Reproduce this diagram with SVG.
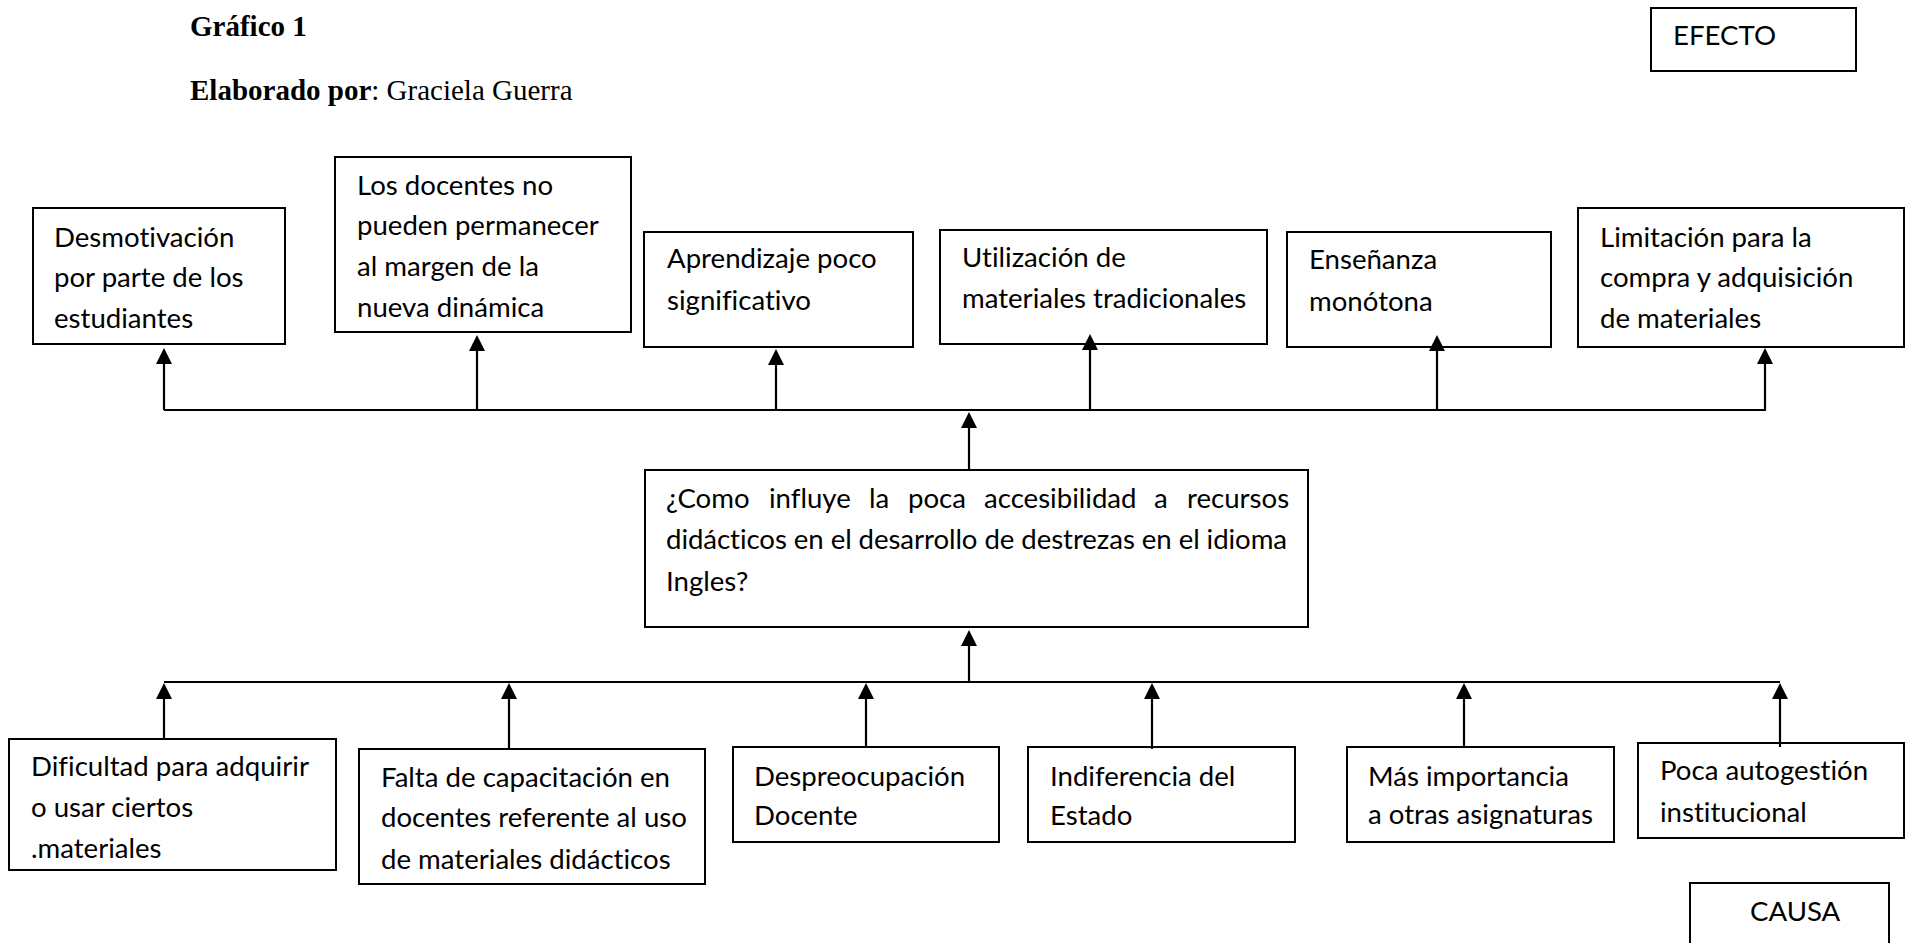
<svg xmlns="http://www.w3.org/2000/svg" width="1912" height="943" viewBox="0 0 1912 943">
<style>
.bg{fill:#fff}
.box{fill:#fff;stroke:#000;stroke-width:2}
.t{font-family:Lato,"Open Sans","Liberation Sans",sans-serif;font-size:27.6px;fill:#000;font-variant-ligatures:none;font-feature-settings:"liga" 0}
.h{font-family:"Liberation Serif","Times New Roman",serif;font-size:29px;fill:#000}
.b{font-weight:bold}
.conn{stroke:#000;stroke-width:2.2;fill:none}
.arr{marker-end:url(#ah)}
</style>
<defs>
<marker id="ah" markerUnits="userSpaceOnUse" viewBox="0 0 16 16" markerWidth="16" markerHeight="16" refX="6" refY="8" orient="auto">
<path d="M0,0 L16,8 L0,16 z" fill="#000"/>
</marker>
</defs>
<rect class="bg" x="0" y="0" width="1912" height="943"/>

<g id="title">
<text class="h b" x="190" y="36">Gráfico 1</text>
<text class="h" x="190" y="100"><tspan class="b">Elaborado por</tspan>: Graciela Guerra</text>
</g>

<g id="efecto">
<rect class="box" x="1651" y="8" width="205" height="63"/>
<text class="t" x="1673" y="45">EFECTO</text>
</g>

<g id="e1">
<rect class="box" x="33" y="208" width="252" height="136"/>
<text class="t" x="54" y="247">Desmotivación</text>
<text class="t" x="54" y="287">por parte de los</text>
<text class="t" x="54" y="328">estudiantes</text>
</g>

<g id="e2">
<rect class="box" x="335" y="157" width="296" height="175"/>
<text class="t" x="357" y="195">Los docentes no</text>
<text class="t" x="357" y="235">pueden permanecer</text>
<text class="t" x="357" y="276">al margen de la</text>
<text class="t" x="357" y="317">nueva dinámica</text>
</g>

<g id="e3">
<rect class="box" x="644" y="232" width="269" height="115"/>
<text class="t" x="667" y="268">Aprendizaje poco</text>
<text class="t" x="667" y="310">significativo</text>
</g>

<g id="e4">
<rect class="box" x="940" y="230" width="327" height="114"/>
<text class="t" x="962" y="267">Utilización de</text>
<text class="t" x="962" y="308">materiales tradicionales</text>
</g>

<g id="e5">
<rect class="box" x="1287" y="232" width="264" height="115"/>
<text class="t" x="1309" y="269">Enseñanza</text>
<text class="t" x="1309" y="311">monótona</text>
</g>

<g id="e6">
<rect class="box" x="1578" y="208" width="326" height="139"/>
<text class="t" x="1600" y="247">Limitación para la</text>
<text class="t" x="1600" y="287">compra y adquisición</text>
<text class="t" x="1600" y="328">de materiales</text>
</g>

<g id="problema">
<rect class="box" x="645" y="470" width="663" height="157"/>
<text class="t" y="508"><tspan x="666">¿Como</tspan><tspan x="769">influye</tspan><tspan x="869">la</tspan><tspan x="908">poca</tspan><tspan x="984">accesibilidad</tspan><tspan x="1154">a</tspan><tspan x="1187">recursos</tspan></text>
<text class="t" x="666" y="549" textLength="621" lengthAdjust="spacing">didácticos en el desarrollo de destrezas en el idioma</text>
<text class="t" x="666" y="591">Ingles?</text>
</g>

<g id="c1">
<rect class="box" x="9" y="739" width="327" height="131"/>
<text class="t" x="31" y="776">Dificultad para adquirir</text>
<text class="t" x="31" y="817">o usar ciertos</text>
<text class="t" x="31" y="858">.materiales</text>
</g>

<g id="c2">
<rect class="box" x="359" y="749" width="346" height="135"/>
<text class="t" x="381" y="787">Falta de capacitación en</text>
<text class="t" x="381" y="827">docentes referente al uso</text>
<text class="t" x="381" y="869">de materiales didácticos</text>
</g>

<g id="c3">
<rect class="box" x="733" y="747" width="266" height="95"/>
<text class="t" x="754" y="786">Despreocupación</text>
<text class="t" x="754" y="825">Docente</text>
</g>

<g id="c4">
<rect class="box" x="1028" y="747" width="267" height="95"/>
<text class="t" x="1050" y="786">Indiferencia del</text>
<text class="t" x="1050" y="825">Estado</text>
</g>

<g id="c5">
<rect class="box" x="1347" y="747" width="267" height="95"/>
<text class="t" x="1368" y="786">Más importancia</text>
<text class="t" x="1368" y="824">a otras asignaturas</text>
</g>

<g id="c6">
<rect class="box" x="1638" y="743" width="266" height="95"/>
<text class="t" x="1660" y="780">Poca autogestión</text>
<text class="t" x="1660" y="822">institucional</text>
</g>

<g id="causa">
<rect class="box" x="1690" y="883" width="199" height="80"/>
<text class="t" x="1750" y="921">CAUSA</text>
</g>

<g id="connectors">
<line class="conn" x1="164" y1="410" x2="1766" y2="410"/>
<line class="conn arr" x1="164" y1="410" x2="164" y2="358"/>
<line class="conn arr" x1="477" y1="410" x2="477" y2="345"/>
<line class="conn arr" x1="776" y1="410" x2="776" y2="359"/>
<line class="conn arr" x1="1090" y1="410" x2="1090" y2="344"/>
<line class="conn arr" x1="1437" y1="410" x2="1437" y2="345"/>
<line class="conn arr" x1="1765" y1="410" x2="1765" y2="358"/>
<line class="conn arr" x1="969" y1="470" x2="969" y2="422"/>
<line class="conn arr" x1="969" y1="682" x2="969" y2="640"/>
<line class="conn" x1="164" y1="682" x2="1780" y2="682"/>
<line class="conn arr" x1="164" y1="739" x2="164" y2="693"/>
<line class="conn arr" x1="509" y1="749" x2="509" y2="693"/>
<line class="conn arr" x1="866" y1="747" x2="866" y2="693"/>
<line class="conn arr" x1="1152" y1="749" x2="1152" y2="693"/>
<line class="conn arr" x1="1464" y1="747" x2="1464" y2="693"/>
<line class="conn arr" x1="1780" y1="747" x2="1780" y2="693"/>
</g>
</svg>
